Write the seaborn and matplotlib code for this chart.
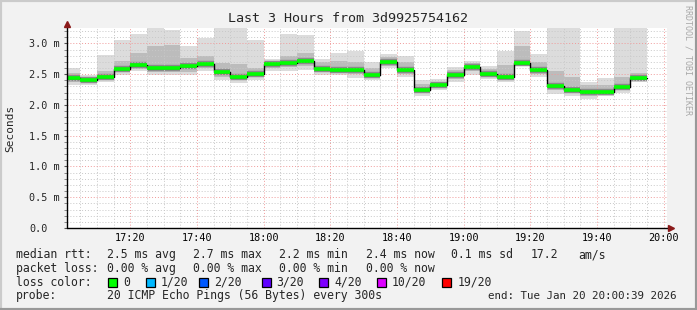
import numpy as np
import pandas as pd
import matplotlib
matplotlib.use("Agg")
import matplotlib.pyplot as plt
import seaborn as sns
from matplotlib.patches import Rectangle
from matplotlib.lines import Line2D

# ---- data (ms), one value per 5-minute step, 17:00:39 .. 19:55 ----
median = [2.43, 2.41, 2.45, 2.59, 2.65, 2.60, 2.60, 2.64, 2.67, 2.53, 2.46, 2.51,
          2.66, 2.68, 2.71, 2.59, 2.57, 2.56, 2.49, 2.69, 2.57, 2.24, 2.32, 2.48,
          2.62, 2.51, 2.45, 2.68, 2.56, 2.31, 2.25, 2.21, 2.21, 2.29, 2.44]
lo = [2.33, 2.33, 2.38, 2.49, 2.55, 2.48, 2.48, 2.48, 2.55, 2.41, 2.36, 2.41,
      2.55, 2.55, 2.57, 2.49, 2.48, 2.44, 2.40, 2.60, 2.46, 2.14, 2.24, 2.37,
      2.49, 2.42, 2.38, 2.63, 2.45, 2.18, 2.14, 2.10, 2.14, 2.20, 2.38]
lo_mid = [2.38, 2.37, 2.41, 2.53, 2.59, 2.53, 2.53, 2.54, 2.60, 2.46, 2.41, 2.45,
          2.60, 2.61, 2.63, 2.54, 2.52, 2.50, 2.44, 2.64, 2.51, 2.19, 2.27, 2.42,
          2.55, 2.46, 2.41, 2.65, 2.50, 2.24, 2.19, 2.15, 2.17, 2.24, 2.40]
hi_mid = [2.52, 2.45, 2.55, 2.72, 2.85, 2.95, 2.98, 2.76, 2.79, 2.68, 2.66, 2.60,
          2.72, 2.79, 2.84, 2.70, 2.72, 2.70, 2.60, 2.78, 2.70, 2.34, 2.38, 2.56,
          2.68, 2.58, 2.65, 2.95, 2.70, 2.55, 2.45, 2.32, 2.33, 2.45, 2.52]
hi = [2.60, 2.48, 2.81, 3.06, 3.16, 3.30, 3.21, 2.95, 3.08, 3.30, 3.30, 3.05,
      2.75, 3.16, 3.14, 2.75, 2.85, 2.88, 2.70, 2.83, 2.80, 2.41, 2.42, 2.62,
      2.71, 2.63, 2.88, 3.20, 2.82, 3.30, 3.30, 2.38, 2.43, 3.30, 3.30]

xtick_labels = ["17:20", "17:40", "18:00", "18:20", "18:40", "19:00", "19:20", "19:40", "20:00"]
ytick_labels = ["0.0", "0.5 m", "1.0 m", "1.5 m", "2.0 m", "2.5 m", "3.0 m"]
loss_labels = ["0", "1/20", "2/20", "3/20", "4/20", "10/20", "19/20"]
loss_colors = ["#00ff00", "#00b8ff", "#0059ff", "#5e00ff", "#7e00ff", "#dd00ff", "#ff0000"]

sns.set_theme(style="white")
plt.rcParams["font.family"] = ["DejaVu Sans Mono"]

W, H = 697, 310
def fx(x): return x / W
def fy(y): return 1 - y / H

fig = plt.figure(figsize=(W / 100, H / 100), dpi=100, facecolor="#f2f2f2")
ax = fig.add_axes([fx(67), 82 / H, 600 / W, 200 / H])
ax.set_facecolor("white")

t0 = 1.0
starts = np.r_[t0, np.arange(5, 175, 5)]
ends = np.r_[starts[1:], 175]
xs = np.r_[starts, 175]

def ext(v):
    v = np.asarray(v, float)
    return np.r_[v, v[-1]]

ax.fill_between(xs, ext(lo), ext(hi), step="post", color="#dcdcdc", lw=0, zorder=1)
ax.fill_between(xs, ext(lo_mid), ext(hi_mid), step="post", color="#bcbcbc", lw=0, zorder=1.1)

ax.hlines(median, starts, ends, color="#8a8a8a", lw=4.6, zorder=2.5)
df = pd.DataFrame({"t": xs, "rtt": ext(median)})
sns.lineplot(data=df, x="t", y="rtt", drawstyle="steps-post", color="black",
             lw=1.0, ax=ax, zorder=3)
ax.hlines(median, starts, ends, color="#00ff00", lw=2.6, zorder=4)

ax.set_xlim(t0, t0 + 180)
ax.set_ylim(0, 3.25)
ax.set_xticks(np.arange(20, 181, 20))
ax.set_xticklabels(xtick_labels)
ax.set_xticks(np.arange(5, 181, 5), minor=True)
ax.set_yticks(np.arange(0, 3.01, 0.5))
ax.set_yticklabels(ytick_labels, ha="left")
ax.set_yticks(np.arange(0, 3.21, 0.1), minor=True)
ax.set_xlabel("")
ax.set_ylabel("")

ax.grid(which="minor", color="#c8c8c8", ls=(0, (1, 2)), lw=0.7, zorder=2)
ax.grid(which="major", color="#f09a9a", ls=(0, (1, 2)), lw=0.7, zorder=2)
ax.set_axisbelow(False)
for l in ax.get_xgridlines() + ax.get_ygridlines():
    l.set_zorder(2)

ax.tick_params(axis="x", which="both", length=0, pad=3.5, labelsize=7.3, colors="black")
ax.tick_params(axis="y", which="major", length=2.5, width=0.8, pad=24.7, labelsize=7.3,
               direction="out", color="#555555", left=True)
ax.tick_params(axis="y", which="minor", length=2.2, width=0.6, direction="out",
               color="#777777", left=True)
for s in ["top", "right", "left", "bottom"]:
    ax.spines[s].set_visible(False)

# axes with arrows
fig.add_artist(Line2D([fx(67), fx(67)], [fy(228), fy(25)], color="black", lw=1))
fig.add_artist(Line2D([fx(67), fx(670)], [fy(228), fy(228)], color="black", lw=1))
fig.add_artist(Line2D([fx(67)], [fy(24)], marker="^", markersize=5, color="#8b1a1a", lw=0))
fig.add_artist(Line2D([fx(671)], [fy(228)], marker=">", markersize=5, color="#8b1a1a", lw=0))

# border
fig.add_artist(Line2D([0, 0, 1], [0, 1, 1], color="#cbcbcb", lw=3, transform=fig.transFigure))
fig.add_artist(Line2D([0, 1, 1], [0, 0, 1], color="#999999", lw=3, transform=fig.transFigure))

fig.text(fx(348), fy(19), "Last 3 Hours from 3d9925754162", ha="center", va="center", size=9.6)
fig.text(fx(10), fy(128), "Seconds", rotation=90, ha="center", va="center", size=8)
fig.text(fx(688), fy(5), "RRDTOOL / TOBI OETIKER", rotation=270, ha="center", va="top",
         size=6, color="#a8a8a8")

fs = 8.3
rows = [254.5, 268.3, 282, 296]
def t(x, row, s, size=fs, **kw):
    fig.text(fx(x), fy(rows[row]), s, ha="left", va="center", size=size, **kw)

t(16, 0, "median rtt:")
t(107, 0, "2.5 ms avg")
t(193, 0, "2.7 ms max")
t(279, 0, "2.2 ms min")
t(365.5, 0, "2.4 ms now")
t(451, 0, "0.1 ms sd")
t(530.5, 0, "17.2")
t(578, 0, "am/s")

t(16, 1, "packet loss:")
t(107, 1, "0.00 % avg")
t(193, 1, "0.00 % max")
t(279, 1, "0.00 % min")
t(365.5, 1, "0.00 % now")

t(16, 2, "loss color:")
box_x = [108, 145.7, 199, 261.7, 319, 376.7, 442.3]
for bx, lab, col in zip(box_x, loss_labels, loss_colors):
    fig.add_artist(Rectangle((fx(bx), fy(rows[2] + 5)), 9 / W, 9 / H, facecolor=col,
                             edgecolor="black", lw=0.9, transform=fig.transFigure))
    t(bx + 15, 2, lab)

t(16, 3, "probe:")
t(107, 3, "20 ICMP Echo Pings (56 Bytes) every 300s")
t(488, 3, "end: Tue Jan 20 20:00:39 2026", size=7.85)

fig.savefig("out.png", dpi=100, facecolor=fig.get_facecolor())
